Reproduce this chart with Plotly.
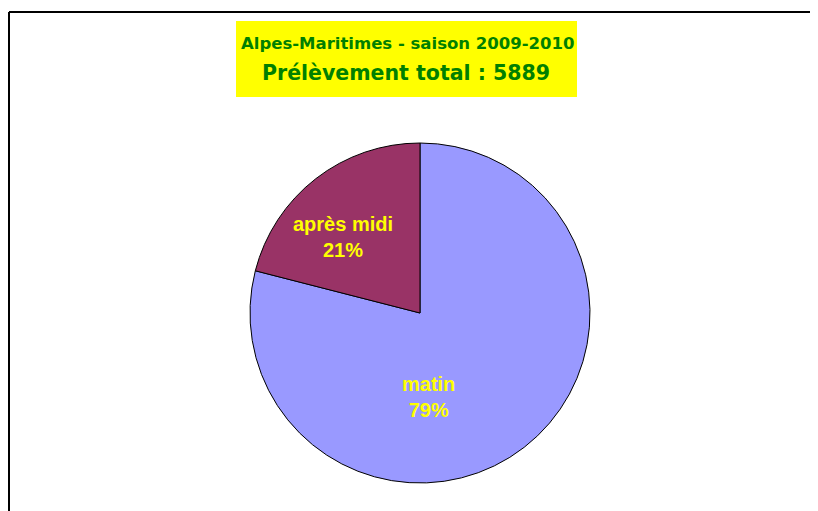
import plotly.graph_objects as go

# Data
periods = ["matin", "après midi"]
prelevements = [4652, 1237]
slice_colors = ["#9999FF", "#993366"]
percent_labels = ["79%", "21%"]
title_line1 = "Alpes-Maritimes - saison 2009-2010"
title_line2 = "Prélèvement total : 5889"

W, H = 818, 511
OFF = 8  # page body margin shifts the figure


def px_x(x):
    return (x - OFF) / W


def px_y(y):
    return 1 - (y - OFF) / H


fig = go.Figure(go.Pie(
    labels=periods,
    values=prelevements,
    sort=False,
    direction="clockwise",
    rotation=0,
    marker=dict(colors=slice_colors, line=dict(color="black", width=1)),
    textinfo="none",
    hoverinfo="label+value+percent",
    domain=dict(x=[px_x(250), px_x(590)], y=[px_y(483), px_y(143)]),
    showlegend=False,
))

# slice labels (placed like the original)
label_pos = [(428, 397), (343, 237)]
for name, pct, (lx, ly) in zip(periods, percent_labels, label_pos):
    fig.add_annotation(text="<b>" + name + "<br>" + pct + "</b>", xref="paper", yref="paper",
                       x=px_x(lx), y=px_y(ly), xanchor="center", yanchor="middle",
                       showarrow=False,
                       font=dict(family="Liberation Sans, Arial", size=20, color="#FFFF00"))

# frame around the chart area
fig.add_shape(type="line", xref="paper", yref="paper",
              x0=px_x(9), x1=px_x(9), y0=0, y1=px_y(12),
              line=dict(color="black", width=2))
fig.add_shape(type="line", xref="paper", yref="paper",
              x0=px_x(9), x1=1, y0=px_y(12), y1=px_y(12),
              line=dict(color="black", width=2))

# yellow title box
fig.add_shape(type="rect", xref="paper", yref="paper",
              x0=px_x(236), x1=px_x(577), y0=px_y(97), y1=px_y(21),
              fillcolor="#FFFF00", line=dict(width=0), layer="below")
fig.add_annotation(text="<b>" + title_line1 + "</b>", xref="paper", yref="paper",
                   x=px_x(407), y=px_y(43), xanchor="center", yanchor="middle", showarrow=False,
                   font=dict(family="DejaVu Sans", size=16.5, color="#008000"))
fig.add_annotation(text="<b>" + title_line2 + "</b>", xref="paper", yref="paper",
                   x=px_x(406), y=px_y(73), xanchor="center", yanchor="middle", showarrow=False,
                   font=dict(family="DejaVu Sans", size=20.5, color="#008000"))

fig.update_layout(width=W, height=H, margin=dict(l=0, r=0, t=0, b=0),
                  paper_bgcolor="white", plot_bgcolor="white")

fig.write_html("out.html")
